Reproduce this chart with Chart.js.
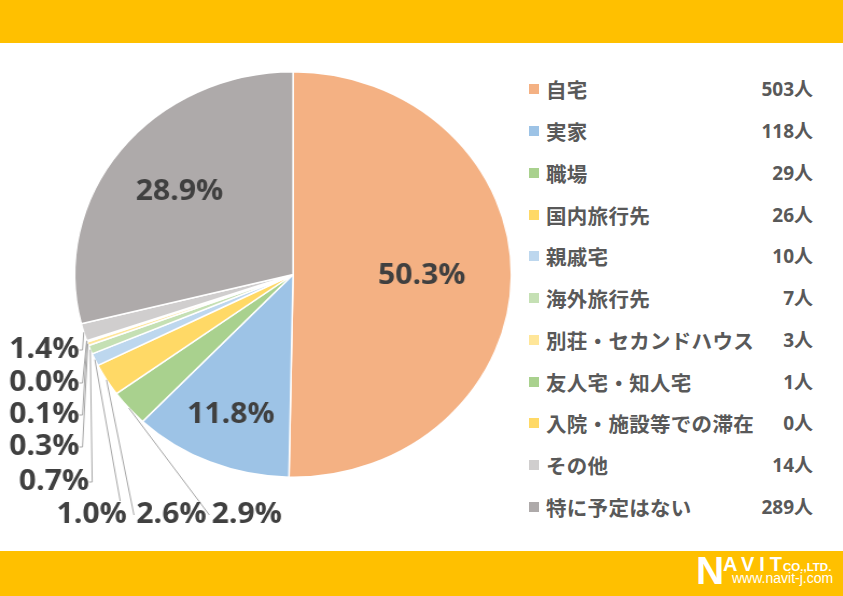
<!DOCTYPE html>
<html lang="ja">
<head>
<meta charset="utf-8">
<title>滞在先</title>
<script src="https://cdn.jsdelivr.net/npm/chart.js@4/dist/chart.umd.min.js"></script>
<style>
    html, body { margin: 0; padding: 0; }
    body { width: 843px; height: 596px; position: relative; overflow: hidden; background: #fff;
           font-family: "Noto Sans CJK JP", "Open Sans", sans-serif; }
    .bar { position: absolute; left: 0; width: 843px; background: #FFC000; }
    #topBar { top: 0; height: 43px; }
    #bottomBar { top: 551px; height: 45px; }
    #pieBox { position: absolute; left: 0; top: 43px; width: 483px; height: 508px;
              transform: scaleX(1.077); transform-origin: 0 0; }
    .row { position: absolute; left: 529px; width: 284px; height: 30px; color: #595959; font-weight: bold; }
    .row .mark { position: absolute; left: 0; top: 10px; width: 10px; height: 10px; }
    .row .name { position: absolute; left: 17px; top: 0; font-size: 20.5px; line-height: 30px; letter-spacing: 0.3px; }
    .row .num { position: absolute; right: 0; top: 0; font-size: 19px; line-height: 30px;
                font-family: "Open Sans", "Noto Sans CJK JP", sans-serif; }
    #logo { position: absolute; left: 0; top: 0; color: #fff; font-family: "Liberation Sans", Arial, sans-serif; font-weight: bold; }
    #logo span { position: absolute; white-space: nowrap; }
</style>
</head>
<body>
<div class="bar" id="topBar"></div>
<div id="pieBox"><canvas id="meuGrafico"></canvas></div>
<div id="legenda"></div>
<div class="bar" id="bottomBar"></div>
<div id="logo">
    <span style="left:696px; top:549px; font-size:39px;">N</span>
    <span style="left:723px; top:553px; font-size:20px; letter-spacing:5px;">AVIT</span>
    <span style="left:783px; top:561px; font-size:11.5px;">CO.,LTD.</span>
    <span style="left:732px; top:570px; font-size:14px; font-weight:normal;">www.navit-j.com</span>
</div>

<script>
// Dados do gráfico
const categorias = ['自宅', '実家', '職場', '国内旅行先', '親戚宅', '海外旅行先',
    '別荘・セカンドハウス', '友人宅・知人宅', '入院・施設等での滞在', 'その他', '特に予定はない'];
const pessoas = [503, 118, 29, 26, 10, 7, 3, 1, 0, 14, 289];
const cores = ['#F4B183', '#9DC3E6', '#A9D18E', '#FFD966', '#BDD7EE', '#C5E0B4',
    '#FFE699', '#A9D18E', '#FFD966', '#D0CECE', '#AEAAAA'];

// Posição dos rótulos (coordenadas do canvas) - dentro: fator do raio; fora: ponto do texto
const posRotulos = [
    { dentro: 0.59 },
    { dentro: 0.75 },
    { x: 229, y: 472, fim: 'left' },
    { x: 159, y: 472, fim: 'left' },
    { x: 85, y: 472, fim: 'top' },
    { x: 50, y: 439, fim: 'right' },
    { x: 41, y: 404, fim: 'right' },
    { x: 41, y: 372, fim: 'right' },
    { x: 41, y: 340, fim: 'right' },
    { x: 41, y: 307, fim: 'right' },
    { dentro: 0.66 }
];

const total = pessoas.reduce((a, b) => a + b, 0);

// Legenda em HTML
const legenda = document.getElementById('legenda');
categorias.forEach((nome, i) => {
    const row = document.createElement('div');
    row.className = 'row';
    row.style.top = (89.3 + i * 41.75 - 15) + 'px';
    row.innerHTML = '<div class="mark" style="background:' + cores[i] + '"></div>' +
        '<div class="name">' + nome + '</div>' +
        '<div class="num">' + pessoas[i] + '人</div>';
    legenda.appendChild(row);
});

// Plugin para os rótulos de porcentagem
const rotulosPlugin = {
    id: 'rotulos',
    afterDatasetsDraw(chart) {
        const ctx = chart.ctx;
        const meta = chart.getDatasetMeta(0);
        ctx.save();
        ctx.font = 'bold 28px "Open Sans", sans-serif';
        ctx.fillStyle = '#404040';
        ctx.textBaseline = 'middle';
        meta.data.forEach((arc, i) => {
            const p = arc.getProps(['x', 'y', 'startAngle', 'endAngle', 'outerRadius'], true);
            const meio = (p.startAngle + p.endAngle) / 2;
            const texto = (pessoas[i] / total * 100).toFixed(1) + '%';
            const pos = posRotulos[i];
            if (pos.dentro) {
                const r = p.outerRadius * pos.dentro;
                ctx.textAlign = 'center';
                ctx.fillText(texto, p.x + Math.cos(meio) * r, p.y + Math.sin(meio) * r);
                return;
            }
            const w = ctx.measureText(texto).width;
            let ex, ey, tx;
            if (pos.fim === 'left') {
                tx = pos.x - w / 2; ex = tx - 2; ey = pos.y;
            } else if (pos.fim === 'top') {
                tx = pos.x - w / 2; ex = pos.x + w / 2 - 6; ey = pos.y - 14;
            } else {
                tx = pos.x - w / 2; ex = tx + w + 3; ey = pos.y;
            }
            const sx = p.x + Math.cos(meio) * p.outerRadius;
            const sy = p.y + Math.sin(meio) * p.outerRadius;
            ctx.strokeStyle = '#A6A6A6';
            ctx.lineWidth = 1;
            ctx.beginPath();
            ctx.moveTo(sx, sy);
            ctx.lineTo(ex, ey);
            if (pos.fim === 'right') ctx.lineTo(ex - 3, ey);
            ctx.stroke();
            ctx.textAlign = 'left';
            ctx.fillText(texto, tx, pos.y);
        });
        ctx.restore();
    }
};

const ctx = document.getElementById('meuGrafico').getContext('2d');
new Chart(ctx, {
    type: 'pie',
    data: {
        labels: categorias,
        datasets: [{
            data: pessoas,
            backgroundColor: cores,
            borderColor: '#FFFFFF',
            borderWidth: 1.5
        }]
    },
    options: {
        responsive: true,
        maintainAspectRatio: false,
        animation: false,
        layout: { padding: { left: 68.6, right: 7.4, top: 28, bottom: 73 } },
        plugins: {
            legend: { display: false },
            tooltip: { enabled: false }
        }
    },
    plugins: [rotulosPlugin]
});
</script>
</body>
</html>
